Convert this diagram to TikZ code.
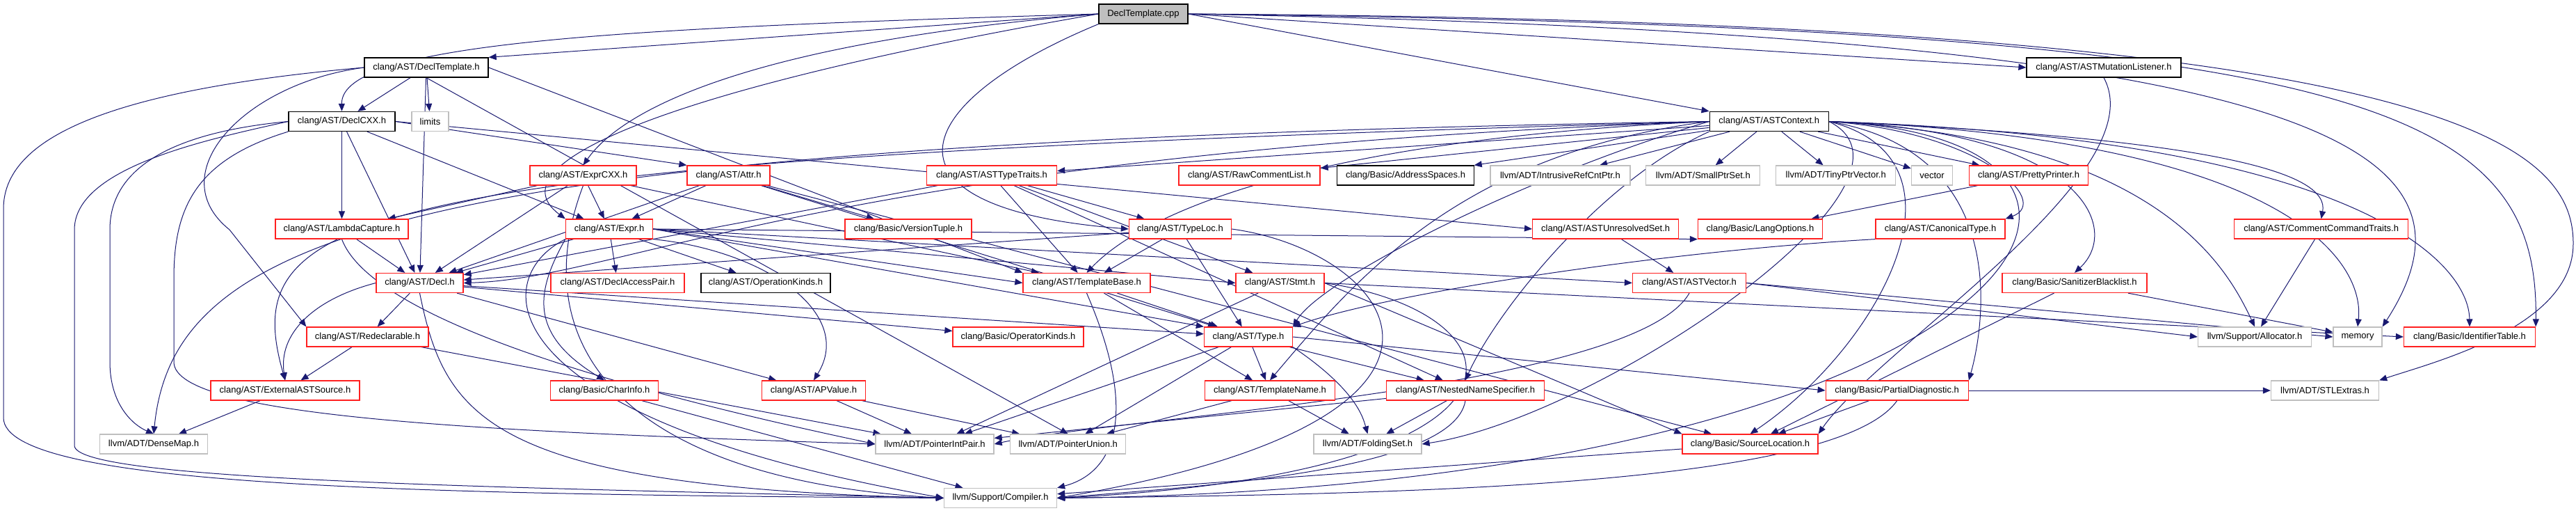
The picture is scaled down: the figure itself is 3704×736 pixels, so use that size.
\documentclass[tikz,border=0pt]{standalone}
\usepackage{fontspec}
\newfontfamily\lsans{Liberation Sans}
\usetikzlibrary{arrows.meta}
\pgfdeclarelayer{bg}
\pgfsetlayers{bg,main}
\definecolor{edgecol}{HTML}{191970}
\definecolor{graybd}{HTML}{BFBFBF}
\definecolor{redbd}{HTML}{FF2020}
\tikzset{
  base/.style={rectangle, minimum height=28pt, inner sep=0pt, fill=white, line width=1.3pt,
    font=\lsans\fontsize{13}{15}\selectfont},
  bbox/.style={base, draw=black},
  rbox/.style={base, draw=redbd},
  gbox/.style={base, draw=graybd},
  edge/.style={draw=edgecol, line width=1pt, -{Triangle[length=11pt,width=9pt]}}
}
\begin{document}
\begin{tikzpicture}[x=1pt,y=-1pt]
\useasboundingbox (0,0) rectangle (3704,736);
% row 0
\node[bbox,fill=graybd,minimum width=128pt] (cpp) at (1644,20) {DeclTemplate.cpp};
% row 1
\node[bbox,minimum width=178pt] (DT) at (613,97) {clang/AST/DeclTemplate.h};
\node[bbox,minimum width=222pt] (AML) at (3025,97) {clang/AST/ASTMutationListener.h};
% row 2
\node[bbox,minimum width=153pt] (DCXX) at (491.5,174.5) {clang/AST/DeclCXX.h};
\node[gbox,minimum width=53pt] (limits) at (618.5,174.5) {limits};
\node[bbox,minimum width=171pt] (ACtx) at (2543.7,174.5) {clang/AST/ASTContext.h};
% row 3
\node[rbox,minimum width=153pt] (ExprCXX) at (838.5,252) {clang/AST/ExprCXX.h};
\node[rbox,minimum width=119pt] (Attr) at (1047.5,252) {clang/AST/Attr.h};
\node[rbox,minimum width=187pt] (ATT) at (1426,252) {clang/AST/ASTTypeTraits.h};
\node[rbox,minimum width=203pt] (RCL) at (1796.5,252) {clang/AST/RawCommentList.h};
\node[bbox,minimum width=197pt] (AS) at (2021,252) {clang/Basic/AddressSpaces.h};
\node[gbox,minimum width=201pt] (IRC) at (2243.4,252) {llvm/ADT/IntrusiveRefCntPtr.h};
\node[gbox,minimum width=164pt] (SPS) at (2448.8,252) {llvm/ADT/SmallPtrSet.h};
\node[gbox,minimum width=172pt] (TPV) at (2639.7,252) {llvm/ADT/TinyPtrVector.h};
\node[gbox,minimum width=59pt] (vec) at (2778,252) {vector};
\node[rbox,minimum width=171pt] (PP) at (2917,252) {clang/AST/PrettyPrinter.h};
% row 4
\node[rbox,minimum width=191pt] (LC) at (491.5,329) {clang/AST/LambdaCapture.h};
\node[rbox,minimum width=125pt] (Expr) at (876,329) {clang/AST/Expr.h};
\node[rbox,minimum width=182pt] (VT) at (1306,329) {clang/Basic/VersionTuple.h};
\node[rbox,minimum width=147pt] (TL) at (1697,329) {clang/AST/TypeLoc.h};
\node[rbox,minimum width=210pt] (AUS) at (2308.6,329) {clang/AST/ASTUnresolvedSet.h};
\node[rbox,minimum width=179pt] (LO) at (2531,329) {clang/Basic/LangOptions.h};
\node[rbox,minimum width=186pt] (CT) at (2790,329) {clang/AST/CanonicalType.h};
\node[rbox,minimum width=250pt] (CCT) at (3337.6,329) {clang/AST/CommentCommandTraits.h};
% row 5
\node[rbox,minimum width=125pt] (Decl) at (603.5,406.5) {clang/AST/Decl.h};
\node[rbox,minimum width=192pt] (DAP) at (888,406.5) {clang/AST/DeclAccessPair.h};
\node[bbox,minimum width=186pt] (OK) at (1101,406.5) {clang/AST/OperationKinds.h};
\node[rbox,minimum width=183pt] (TB) at (1562.5,406.5) {clang/AST/TemplateBase.h};
\node[rbox,minimum width=127pt] (Stmt) at (1840.5,406.5) {clang/AST/Stmt.h};
\node[rbox,minimum width=163pt] (ASTV) at (2429,406.5) {clang/AST/ASTVector.h};
\node[rbox,minimum width=208pt] (SB) at (2983,406.5) {clang/Basic/SanitizerBlacklist.h};
% row 6
\node[rbox,minimum width=175pt] (Redecl) at (528.5,484) {clang/AST/Redeclarable.h};
\node[rbox,minimum width=188pt] (OpK) at (1464,484) {clang/Basic/OperatorKinds.h};
\node[rbox,minimum width=127pt] (Type) at (1795,484) {clang/AST/Type.h};
\node[gbox,minimum width=163pt] (Alloc) at (3242,484) {llvm/Support/Allocator.h};
\node[gbox,minimum width=70pt] (mem) at (3390,484) {memory};
\node[rbox,minimum width=189pt] (IT) at (3551,484) {clang/Basic/IdentifierTable.h};
% row 7
\node[rbox,minimum width=214pt] (EAS) at (410,561) {clang/AST/ExternalASTSource.h};
\node[rbox,minimum width=155pt] (CI) at (869,561) {clang/Basic/CharInfo.h};
\node[rbox,minimum width=149pt] (APV) at (1170,561) {clang/AST/APValue.h};
\node[rbox,minimum width=187pt] (TN) at (1826,561) {clang/AST/TemplateName.h};
\node[rbox,minimum width=227pt] (NNS) at (2107,561) {clang/AST/NestedNameSpecifier.h};
\node[rbox,minimum width=205pt] (PD) at (2727.7,561) {clang/Basic/PartialDiagnostic.h};
\node[gbox,minimum width=155pt] (STL) at (3343,561) {llvm/ADT/STLExtras.h};
% row 8
\node[gbox,minimum width=155pt] (DM) at (221,638) {llvm/ADT/DenseMap.h};
\node[gbox,minimum width=170pt] (PIP) at (1344,638) {llvm/ADT/PointerIntPair.h};
\node[gbox,minimum width=166pt] (PU) at (1535.7,638) {llvm/ADT/PointerUnion.h};
\node[gbox,minimum width=155pt] (FS) at (1966.5,638) {llvm/ADT/FoldingSet.h};
\node[rbox,minimum width=195pt] (SL) at (2516.5,638) {clang/Basic/SourceLocation.h};
% row 9
\node[gbox,minimum width=162pt] (Comp) at (1438.5,715.5) {llvm/Support/Compiler.h};

\begin{pgfonlayer}{bg}
% DeclTemplate.cpp
\draw[edge] (cpp.west) -- (DT.north east);
\draw[edge] (cpp.west) .. controls (900,40) and (490,60) .. (DCXX.north);
\draw[edge] (cpp.west) .. controls (1100,60) and (900,150) .. (ExprCXX.north);
\draw[edge] (cpp.west) .. controls (1000,120) and (700,230) .. (Expr.north west);
\draw[edge] (cpp.south west) .. controls (1300,150) and (1250,300) .. (TL.west);
\draw[edge] (cpp.east) -- (ACtx.north west);
\draw[edge] (cpp.east) -- (AML.west);
\draw[edge] (cpp.east) .. controls (3400,40) and (3650,150) .. (IT.north east);
\draw[edge] (cpp.east) .. controls (3300,50) and (3600,200) .. (mem.north east);
\draw[edge] (cpp.east) .. controls (3500,30) and (3700,200) .. (3700,350) .. controls (3700,470) and (3500,520) .. (STL.north east);
% DeclTemplate.h
\draw[edge] (DT) -- (DCXX);
\draw[edge] (DT) -- (limits);
\draw[edge] (DT) -- (Decl);
\draw[edge] (DT.west) .. controls (350,120) and (230,250) .. (330,330) -- (Redecl.north west);
\draw[edge] (DT.east) -- (TB.north west);
\draw[edge] (DT.south) -- (PU.north);
\draw[edge] (DT.west) .. controls (150,130) and (5,200) .. (5,300) -- (5,600) .. controls (5,700) and (600,710) .. (Comp.west);
% DeclCXX.h
\draw[edge] (DCXX) -- (LC);
\draw[edge] (DCXX.east) -- (Attr.north west);
\draw[edge] (DCXX) -- (Expr);
\draw[edge] (DCXX) -- (Decl);
\draw[edge] (DCXX.east) -- (AUS.west);
\draw[edge] (DCXX.west) .. controls (250,190) and (158,240) .. (158,330) -- (158,520) .. controls (158,580) and (190,610) .. (DM.north);
\draw[edge] (DCXX.west) .. controls (300,200) and (107,240) .. (107,330) -- (107,640) .. controls (107,690) and (700,700) .. (Comp.west);
\draw[edge] (DCXX.south west) .. controls (280,230) and (250,300) .. (250,400) -- (250,520) .. controls (250,600) and (700,620) .. (PIP.west);
% ExprCXX.h
\draw[edge] (ExprCXX) -- (LC);
\draw[edge] (ExprCXX) -- (Decl);
\draw[edge] (ExprCXX) -- (Expr);
\draw[edge] (ExprCXX) -- (TB);
\draw[edge] (ExprCXX.south) .. controls (750,500) and (900,690) .. (Comp.west);
% Attr.h
\draw[edge] (Attr) -- (Decl);
\draw[edge] (Attr) -- (Expr);
\draw[edge] (Attr) -- (VT);
\draw[edge] (Attr) -- (Type);
\draw[edge] (Attr) -- (SL);
% ASTTypeTraits.h
\draw[edge] (ATT) -- (TL);
\draw[edge] (ATT) -- (TB);
\draw[edge] (ATT) -- (Decl);
\draw[edge] (ATT) -- (Stmt);
\draw[edge] (ATT) -- (NNS);
% ASTContext.h left side
\draw[edge] (ACtx) -- (ATT);
\draw[edge] (ACtx) -- (RCL);
\draw[edge] (ACtx) -- (AS);
\draw[edge] (ACtx) -- (IRC);
\draw[edge] (ACtx) -- (SPS);
\draw[edge] (ACtx) -- (TPV);
\draw[edge] (ACtx) -- (vec);
\draw[edge] (ACtx) -- (PP);
\draw[edge] (ACtx.west) .. controls (1200,220) and (900,400) .. (Decl.east);
\draw[edge] (ACtx.west) .. controls (600,205) and (250,330) .. (DM.north);
\draw[edge] (ACtx.west) .. controls (500,230) and (340,300) .. (EAS.north);
\draw[edge] (ACtx.west) .. controls (1900,200) and (1650,300) .. (TB.north);
\draw[edge] (ACtx.west) .. controls (2200,250) and (1900,400) .. (Type.north east);
\draw[edge] (ACtx.west) .. controls (2100,220) and (1950,400) .. (TN.north);
\draw[edge] (ACtx.south west) .. controls (2300,260) and (2150,450) .. (NNS.north);
% ASTContext.h right side
\draw[edge] (ACtx.east) .. controls (2850,190) and (2950,290) .. (CT.north east);
\draw[edge] (ACtx.east) .. controls (3200,200) and (3350,250) .. (CCT.north);
\draw[edge] (ACtx.east) .. controls (3000,190) and (3050,330) .. (SB.north);
\draw[edge] (ACtx.east) .. controls (3100,200) and (3200,380) .. (Alloc.north);
\draw[edge] (ACtx.east) .. controls (3300,200) and (3400,380) .. (mem.north);
\draw[edge] (ACtx.east) .. controls (3400,200) and (3550,380) .. (IT.north);
\draw[edge] (ACtx.east) .. controls (2900,220) and (2850,480) .. (PD.north east);
\draw[edge] (ACtx.east) .. controls (2850,230) and (2700,500) .. (SL.north);
\draw[edge] (ACtx.east) .. controls (2800,260) and (2300,600) .. (FS.east);
\draw[edge] (ACtx.east) .. controls (3200,200) and (2900,700) .. (Comp.east);
% others row 3/4
\draw[edge] (PP) -- (LO);
\draw[edge] (CT.south west) .. controls (2400,360) and (2000,420) .. (Type.north east);
\draw[edge] (CCT) -- (Alloc);
\draw[edge] (AUS) -- (ASTV);
\draw[edge] (LC) -- (Decl);
\draw[edge] (LC.south) .. controls (520,420) and (700,520) .. (PIP.west);
% Expr.h
\draw[edge] (Expr) -- (Decl);
\draw[edge] (Expr) -- (DAP);
\draw[edge] (Expr) -- (OK);
\draw[edge] (Expr.south west) .. controls (770,420) and (760,480) .. (CI.north);
\draw[edge] (Expr.south east) .. controls (1100,360) and (1230,450) .. (APV.north);
\draw[edge] (Expr.south west) .. controls (700,400) and (700,600) .. (Comp.west);
\draw[edge] (Expr.east) -- (TB.west);
\draw[edge] (Expr.east) -- (Stmt.west);
\draw[edge] (Expr.east) -- (ASTV.west);
\draw[edge] (Expr.east) -- (Type.north west);
\draw[edge] (Expr.east) -- (LO.south west);
% TypeLoc.h
\draw[edge] (TL) -- (Decl);
\draw[edge] (TL) -- (TB);
\draw[edge] (TL) -- (Type);
\draw[edge] (TL.east) .. controls (2000,360) and (2200,600) .. (Comp.east);
% Decl.h
\draw[edge] (Decl.west) .. controls (450,430) and (400,480) .. (EAS.north);
\draw[edge] (Decl) -- (Redecl);
\draw[edge] (Decl.south) .. controls (640,600) and (700,700) .. (Comp.west);
\draw[edge] (Decl) -- (APV);
\draw[edge] (Decl) -- (OpK);
\draw[edge] (Decl) -- (Type);
% TemplateBase.h
\draw[edge] (TB) -- (Type);
\draw[edge] (TB) -- (TN);
\draw[edge] (TB.south) .. controls (1640,600) and (1600,680) .. (Comp.north east);
% Stmt.h
\draw[edge] (Stmt) -- (PIP);
\draw[edge] (Stmt.east) -- (IT.west);
\draw[edge] (Stmt.east) -- (SL.north west);
\draw[edge] (Stmt.east) .. controls (2200,450) and (2250,680) .. (Comp.east);
% ASTVector.h
\draw[edge] (ASTV.south) .. controls (2350,560) and (1600,600) .. (PIP.east);
\draw[edge] (ASTV.east) -- (Alloc.west);
\draw[edge] (ASTV.east) -- (mem.west);
% SanitizerBlacklist.h
\draw[edge] (SB) -- (SL);
\draw[edge] (SB) -- (mem);
% Redeclarable.h
\draw[edge] (Redecl) -- (EAS);
\draw[edge] (Redecl) -- (PIP);
% Type.h
\draw[edge] (Type) -- (TN);
\draw[edge] (Type) -- (NNS);
\draw[edge] (Type.south east) .. controls (1950,560) and (1960,600) .. (FS.north);
\draw[edge] (Type) -- (PIP);
\draw[edge] (Type) -- (PU);
\draw[edge] (Type.east) -- (PD.west);
% level 7
\draw[edge] (EAS) -- (DM);
\draw[edge] (CI) -- (Comp);
\draw[edge] (APV) -- (PIP);
\draw[edge] (APV) -- (PU);
\draw[edge] (TN) -- (FS);
\draw[edge] (TN) -- (PU);
\draw[edge] (NNS) -- (PIP);
\draw[edge] (NNS) -- (FS);
\draw[edge] (NNS.south) .. controls (2090,680) and (1700,700) .. (Comp.east);
\draw[edge] (PD) -- (SL);
\draw[edge] (PD.south) .. controls (2640,700) and (2000,710) .. (Comp.east);
\draw[edge] (PD.east) -- (STL.west);
\draw[edge] (SL) -- (Comp);
\draw[edge] (AML.south) .. controls (3100,250) and (2700,500) .. (SL.north east);
\end{pgfonlayer}
\end{tikzpicture}
\end{document}
